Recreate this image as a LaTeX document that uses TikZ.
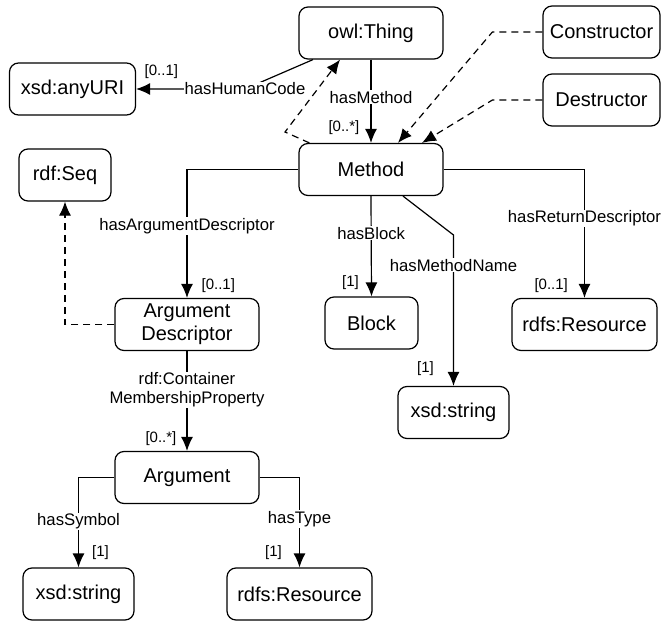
\documentclass[tikz,border=0pt]{standalone}
\usepackage{fontspec}
\setmainfont{Liberation Sans}
\usetikzlibrary{arrows.meta,positioning}

\begin{document}
\begin{tikzpicture}[x=1pt, y=-1pt,
        box/.style={draw, rounded corners=9pt, line width=1.2pt, minimum height=52pt,
          inner sep=2pt, font=\fontsize{20}{23}\selectfont, align=center},
        lbl/.style={fill=white, inner sep=1pt, font=\fontsize{16.7}{19}\selectfont, align=center},
        card/.style={inner sep=1pt, font=\fontsize{15}{15}\selectfont},
        link/.style={line width=1.2pt},
        dashlink/.style={line width=1.2pt, dash pattern=on 7pt off 5pt},
        >={Latex[length=14pt,width=12pt]}]
     \useasboundingbox (0,0) rectangle (662,624);
     \node (thing) at (371,33) [box, minimum width=144pt] {owl:Thing};
     \node (anyuri) at (72.5,89) [box, minimum width=126pt] {xsd:anyURI};
     \node (constructor) at (601.5,32) [box, minimum width=117pt] {Constructor};
     \node (destructor) at (601.5,100) [box, minimum width=117pt] {Destructor};
     \node (method) at (371,169.5) [box, minimum width=144pt] {Method};
     \node (seq) at (65,175) [box, minimum width=92pt] {rdf:Seq};
     \node (argdesc) at (187,324.5) [box, minimum width=144pt] {Argument\\Descriptor};
     \node (block) at (371.5,323) [box, minimum width=93pt] {Block};
     \node (retres) at (584.5,324.5) [box, minimum width=145pt] {rdfs:Resource};
     \node (namestr) at (453.5,412.5) [box, minimum width=111pt] {xsd:string};
     \node (argument) at (187,477.5) [box, minimum width=144pt] {Argument};
     \node (symstr) at (78.5,594) [box, minimum width=111pt] {xsd:string};
     \node (typeres) at (299.5,594) [box, minimum width=145pt] {rdfs:Resource};
     \coordinate (hcbend) at (245,89);
     \coordinate (subbend) at (285,132);
     \coordinate (mnbend) at (453.5,235);
     % owl:Thing
     \draw[link,->] (thing.south) -- node[lbl, pos=0.45] {hasMethod} (method.north)
        node[card, pos=1, anchor=east, xshift=-10pt, yshift=15pt] {[0..*]};
     \draw[link,->] ([xshift=-58pt]thing.south) -- (hcbend) node[lbl] {hasHumanCode}
        -- (anyuri.east) node[card, pos=1, anchor=west, xshift=7pt, yshift=17pt] {[0..1]};
     % subclasses
     \draw[dashlink,->] ([xshift=11pt]method.north west) -- (subbend) -- ([xshift=-31pt]thing.south);
     \draw[dashlink,->] (constructor.west) -- ++(-50,0) -- ([xshift=27pt]method.north);
     \draw[dashlink,->] (destructor.west) -- ++(-50,0) -- ([xshift=51pt]method.north);
     \draw[dashlink,->] (argdesc.west) -| (seq.south);
     % Method
     \draw[link,->] (method.west) -| node[lbl, pos=0.72] {hasArgumentDescriptor} (argdesc.north)
        node[card, pos=1, anchor=west, xshift=13pt, yshift=12pt] {[0..1]};
     \draw[link,->] (method.south) -- node[lbl, pos=0.37] {hasBlock} (block.north)
        node[card, pos=1, anchor=east, xshift=-11pt, yshift=14pt] {[1]};
     \draw[link,->] ([xshift=32pt]method.south) -- (mnbend) -- node[lbl, pos=0.2] {hasMethodName} (namestr.north)
        node[card, pos=1, anchor=east, xshift=-18pt, yshift=17pt] {[1]};
     \draw[link,->] (method.east) -| node[lbl, pos=0.69] {hasReturnDescriptor} (retres.north)
        node[card, pos=1, anchor=east, xshift=-15pt, yshift=12pt] {[0..1]};
     % Argument
     \draw[link,->] (argdesc.south) -- node[lbl, pos=0.39] {rdf:Container\\MembershipProperty} (argument.north)
        node[card, pos=1, anchor=east, xshift=-9pt, yshift=12pt] {[0..*]};
     \draw[link,->] (argument.west) -| node[lbl, pos=0.745] {hasSymbol} (symstr.north)
        node[card, pos=1, anchor=west, xshift=12pt, yshift=15pt] {[1]};
     \draw[link,->] (argument.east) -| node[lbl, pos=0.73] {hasType} (typeres.north)
        node[card, pos=1, anchor=east, xshift=-16pt, yshift=15pt] {[1]};
\end{tikzpicture}
\end{document}
